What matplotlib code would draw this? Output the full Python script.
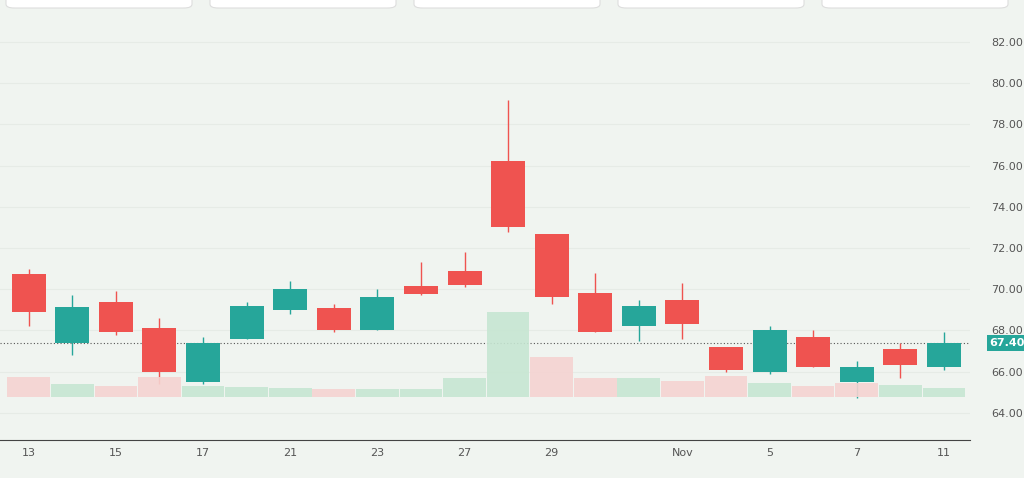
import numpy as np
import matplotlib.pyplot as plt
from matplotlib.patches import FancyBboxPatch

# daily OHLC, Oct 13 - Nov 11
dates = ['13', '14', '15', '16', '17', '20', '21', '22', '23', '24', '27',
         '28', '29', '30', '31', 'Nov', '4', '5', '6', '7', '10', '11']
opens = [70.75, 67.4, 69.4, 68.1, 65.5, 67.6, 69.0, 69.1, 68.0, 70.15, 70.9,
         76.2, 72.7, 69.8, 68.2, 69.5, 67.2, 66.0, 67.7, 65.5, 67.1, 66.2]
highs = [71.0, 69.7, 69.9, 68.6, 67.7, 69.4, 70.4, 69.3, 70.0, 71.3, 71.8,
         79.2, 72.7, 70.8, 69.5, 70.3, 67.2, 68.2, 68.0, 66.5, 67.4, 67.9]
lows = [68.2, 66.8, 67.8, 65.4, 65.4, 67.6, 68.8, 67.9, 68.0, 69.7, 70.1,
        72.8, 69.3, 67.9, 67.5, 67.6, 66.0, 65.9, 66.2, 64.7, 65.7, 66.1]
closes = [68.9, 69.15, 67.9, 66.0, 67.4, 69.2, 70.0, 68.0, 69.6, 69.75, 70.2,
          73.0, 69.6, 67.9, 69.2, 68.3, 66.1, 68.0, 66.2, 66.2, 66.3, 67.4]
volumes = [20, 13, 11, 20, 11, 10, 9, 8, 8, 8, 19, 85, 40, 19, 19, 16, 21, 14,
           11, 14, 12, 9]
# volume colour follows close vs previous close
vol_up = [0, 1, 0, 0, 1, 1, 1, 0, 1, 1, 1, 1, 0, 0, 1, 0, 0, 1, 0, 0, 1, 1]
tick_idx = [0, 2, 4, 6, 8, 10, 12, 15, 17, 19, 21]
last_price = 67.40

green, red = '#26a69a', '#ef5350'
bg = '#f0f4f0'

fig = plt.figure(figsize=(10.24, 4.78), dpi=100, facecolor=bg)
ax = fig.add_axes([0, 38 / 478, 970 / 1024, 440 / 478], facecolor=bg)
axv = ax.twinx()
axv.set_ylim(-43, 397)
axv.axis('off')

x = np.arange(len(dates))
for i in x:
    up = closes[i] >= opens[i]
    c = green if up else red
    ax.vlines(i, lows[i], highs[i], color=c, lw=1, zorder=3)
    lo, hi = min(opens[i], closes[i]), max(opens[i], closes[i])
    ax.bar(i, hi - lo, bottom=lo, width=0.78, color=c, zorder=4)
    axv.bar(i, volumes[i], width=0.98, color='#c6e6d2' if vol_up[i] else '#f5d3d1',
            alpha=0.9, zorder=1)

ax.set_xlim(-0.66, 21.6)
ax.set_ylim(62.68, 84.04)
ax.axhline(last_price, color='#555555', ls=(0, (1, 2)), lw=0.8, zorder=2)

ax.set_yticks(np.arange(64, 83, 2))
ax.yaxis.tick_right()
ax.tick_params(axis='y', length=0, labelsize=8, labelcolor='#555555', pad=15)
ax.set_yticklabels([f'{v:.2f}' for v in np.arange(64, 83, 2)])
ax.grid(axis='y', color='#e6ebe6', lw=0.8)
ax.set_xticks(tick_idx)
ax.set_xticklabels([dates[i] for i in tick_idx])
ax.tick_params(axis='x', length=0, labelsize=8, labelcolor='#555555', pad=6)
for s in ['top', 'right', 'left']:
    ax.spines[s].set_visible(False)
ax.spines['bottom'].set_color('#444444')

ax.text(1.02, last_price, f'{last_price:.2f}', transform=ax.get_yaxis_transform(),
        va='center', ha='left', fontsize=8, fontweight='bold', color='white',
        bbox=dict(boxstyle='square,pad=0.25', fc=green, ec='none'), clip_on=False)

# tab strips at top
for left in [6, 210, 414, 618, 822]:
    fig.patches.append(FancyBboxPatch((left / 1024, 470 / 478), 186 / 1024, 20 / 478,
                                      boxstyle='round,pad=0,rounding_size=0.008',
                                      transform=fig.transFigure, fc='white',
                                      ec='#dddddd', lw=0.8))

fig.savefig('out.png', dpi=100, facecolor=bg)
